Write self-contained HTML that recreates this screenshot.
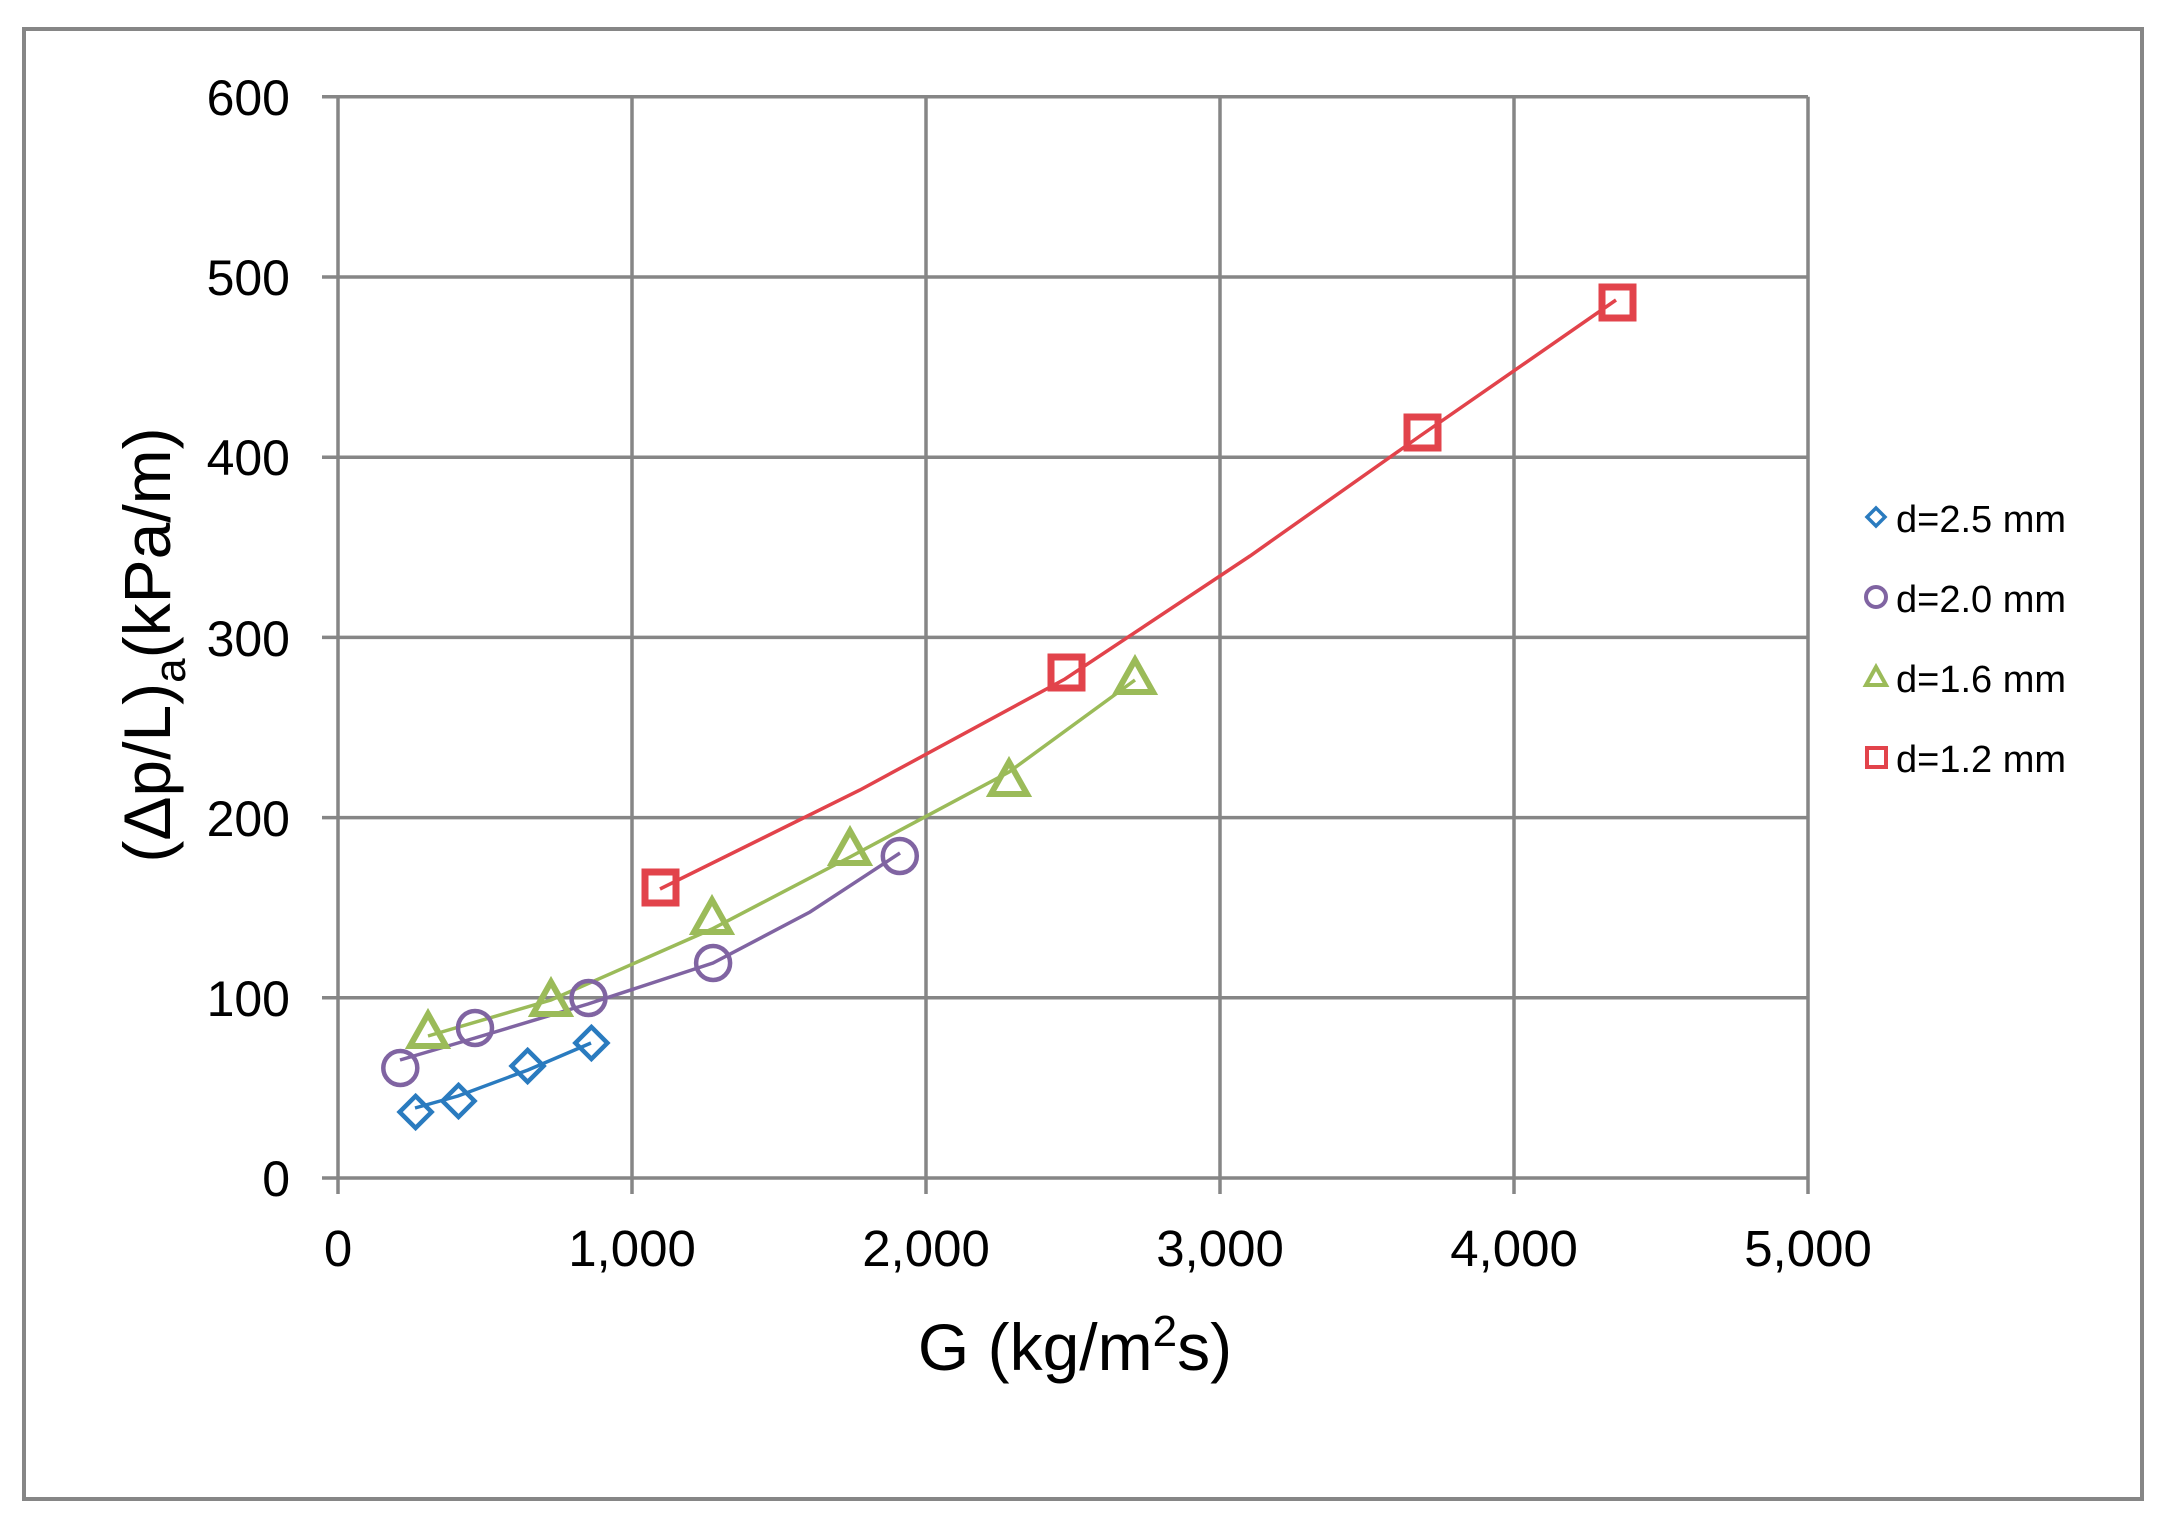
<!DOCTYPE html>
<html><head><meta charset="utf-8"><style>
html,body{margin:0;padding:0;background:#fff;}
svg{display:block;font-family:"Liberation Sans",Arial,sans-serif;}
</style></head><body>
<svg width="2169" height="1528" viewBox="0 0 2169 1528" xmlns="http://www.w3.org/2000/svg">
<rect x="0" y="0" width="2169" height="1528" fill="#fff"/>
<rect x="24" y="29" width="2118" height="1470" fill="none" stroke="#868686" stroke-width="4"/>
<g stroke="#868686" stroke-width="3.5" fill="none">
<line x1="322" y1="1178" x2="1808" y2="1178"/>
<line x1="322" y1="997.8" x2="1808" y2="997.8"/>
<line x1="322" y1="817.6" x2="1808" y2="817.6"/>
<line x1="322" y1="637.4" x2="1808" y2="637.4"/>
<line x1="322" y1="457.2" x2="1808" y2="457.2"/>
<line x1="322" y1="277" x2="1808" y2="277"/>
<line x1="322" y1="96.8" x2="1808" y2="96.8"/>
<line x1="338" y1="96.8" x2="338" y2="1194"/>
<line x1="632" y1="96.8" x2="632" y2="1194"/>
<line x1="926" y1="96.8" x2="926" y2="1194"/>
<line x1="1220" y1="96.8" x2="1220" y2="1194"/>
<line x1="1514" y1="96.8" x2="1514" y2="1194"/>
<line x1="1808" y1="96.8" x2="1808" y2="1194"/>
</g>
<g font-size="50" fill="#000" text-anchor="end">
<text x="290" y="1196">0</text>
<text x="290" y="1016">100</text>
<text x="290" y="836">200</text>
<text x="290" y="656">300</text>
<text x="290" y="475">400</text>
<text x="290" y="295">500</text>
<text x="290" y="115">600</text>
</g>
<g font-size="51" fill="#000" text-anchor="middle">
<text x="338" y="1266">0</text>
<text x="632" y="1266">1,000</text>
<text x="926" y="1266">2,000</text>
<text x="1220" y="1266">3,000</text>
<text x="1514" y="1266">4,000</text>
<text x="1808" y="1266">5,000</text>
</g>
<text x="1075" y="1370" font-size="66" text-anchor="middle">G (kg/m<tspan font-size="44" dy="-24">2</tspan><tspan dy="24">s)</tspan></text>
<text transform="translate(170,645) rotate(-90)" font-size="66" text-anchor="middle">(Δp/L)<tspan font-size="44" dy="15">a</tspan><tspan dy="-15">(kPa/m)</tspan></text>
<g fill="none" stroke-width="3.5">
<polyline stroke="#2A7BBF" points="415,1108 458,1096 528,1070 591,1043"/>
<polyline stroke="#8064A2" points="400,1060 475,1038 588,1004 713,963 810,912 900,853"/>
<polyline stroke="#9BBB59" points="428,1036 551,1000 712,929 850,857 1009,772 1135,680"/>
<polyline stroke="#E2434B" points="660,889 860,790 1065,679 1250,556 1420,436 1616,300"/>
</g>
<g fill="none" stroke="#2A7BBF" stroke-width="4.5">
<path d="M415.6,1096 l16,16 l-16,16 l-16,-16z"/>
<path d="M458.5,1085 l16,16 l-16,16 l-16,-16z"/>
<path d="M527.6,1050 l16,16 l-16,16 l-16,-16z"/>
<path d="M591.4,1027 l16,16 l-16,16 l-16,-16z"/>
</g>
<g fill="none" stroke="#8064A2" stroke-width="4.5">
<circle cx="400.3" cy="1068" r="17"/>
<circle cx="475" cy="1028" r="17"/>
<circle cx="588.5" cy="998" r="17"/>
<circle cx="713.1" cy="963" r="17"/>
<circle cx="899.8" cy="856" r="17"/>
</g>
<g fill="none" stroke="#9BBB59" stroke-width="6">
<path d="M428,1014 l18,32 h-36z"/>
<path d="M551,982 l18,32 h-36z"/>
<path d="M712,900 l18,32 h-36z"/>
<path d="M850,831 l18,32 h-36z"/>
<path d="M1009,762 l18,32 h-36z"/>
<path d="M1135,660 l18,32 h-36z"/>
</g>
<g fill="none" stroke="#E2434B" stroke-width="7">
<rect x="645" y="872" width="31" height="31"/>
<rect x="1051" y="657" width="31" height="31"/>
<rect x="1407" y="417" width="31" height="31"/>
<rect x="1602" y="287" width="31" height="31"/>
</g>
<g font-size="38" fill="#000">
<path d="M1876,508 l9,9 l-9,9 l-9,-9z" fill="none" stroke="#2A7BBF" stroke-width="3.5"/>
<text x="1896" y="532">d=2.5 mm</text>
<circle cx="1876" cy="597" r="10" fill="none" stroke="#8064A2" stroke-width="4"/>
<text x="1896" y="612">d=2.0 mm</text>
<path d="M1876,667 l10,18 h-20z" fill="none" stroke="#9BBB59" stroke-width="4"/>
<text x="1896" y="692">d=1.6 mm</text>
<rect x="1867" y="748" width="19" height="19" fill="none" stroke="#E2434B" stroke-width="4"/>
<text x="1896" y="772">d=1.2 mm</text>
</g>
</svg>
</body></html>
